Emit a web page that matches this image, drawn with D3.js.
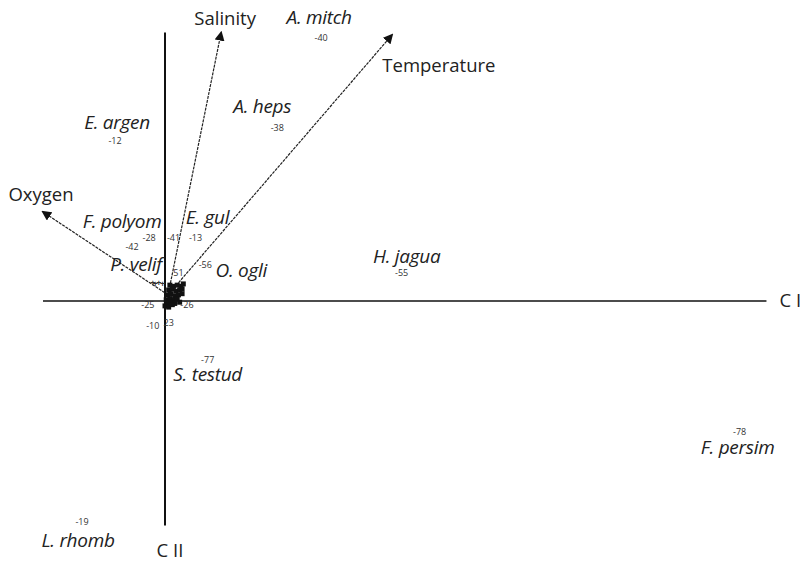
<!DOCTYPE html>
<html>
<head>
<meta charset="utf-8">
<script src="https://cdn.jsdelivr.net/npm/d3@7"></script>
<style>
  body { margin: 0; background: #fff; }
  svg { display: block; }
  .name { font-family: "Open Sans", sans-serif; font-style: italic; font-size: 19px; fill: #222; letter-spacing: -0.3px; }
  .num { font-family: "Open Sans", sans-serif; font-size: 9px; fill: #333; }
  .env { font-family: "Open Sans", sans-serif; font-size: 18.5px; fill: #222; }
</style>
</head>
<body>
<div id="svg-container"></div>
<script>
// site scores (CI, CII) and their ids
var ids   = ["-40", "-38", "-12", "-28", "-41", "-13", "-42", "51", "-56", "-55", "-25", "-26", "-10", "23", "-77", "-78", "-19"];
var ci    = [1.28, 0.92, -0.41, -0.13, 0.07, 0.25, -0.27, 0.11, 0.33, 1.94, -0.14, 0.18, -0.10, 0.03, 0.35, 4.71, -0.68];
var cii   = [2.16, 1.42, 1.31, 0.52, 0.52, 0.52, 0.44, 0.23, 0.30, 0.23, -0.03, -0.03, -0.20, -0.18, -0.48, -1.07, -1.81];
var names = ["A. mitch", "A. heps", "E. argen", "F. polyom", "", "E. gul", "P. velif", "", "O. ogli", "H. jagua", "", "", "", "", "S. testud", "F. persim", "L. rhomb"];

// dense cluster near the origin
var clusterX = [0.04, 0.07, 0.10, 0.13, 0.15, 0.03, 0.06, 0.09, 0.12, 0.14, 0.02, 0.05, 0.08, 0.11, 0.14, 0.01, 0.04, 0.07, 0.10, 0.02, 0.05, 0.08, 0.00, 0.03, 0.06, 0.12];
var clusterY = [0.13, 0.12, 0.13, 0.12, 0.14, 0.09, 0.10, 0.08, 0.09, 0.10, 0.05, 0.06, 0.04, 0.05, 0.06, 0.01, 0.02, 0.01, 0.02, -0.02, -0.01, -0.02, -0.04, -0.05, -0.03, -0.01];
var crossX = [-0.08, -0.05, -0.02, -0.10];
var crossY = [0.14, 0.15, 0.14, 0.15];

// environmental vectors
var envNames = ["Salinity", "Temperature", "Oxygen"];
var envX = [0.46, 1.86, -1.0];
var envY = [2.20, 2.18, 0.73];
var envBase = [0.025, 0.05];

// label layout (pixel offsets from the point)
var nameDx = [-2, -15, 2, -27, 0, 12, 4, 0, 36, 5, 0, 0, 0, 0, 0, -2, -4];
var nameDy = [-20, -21, -19, -16, 0, -20, 17, 0, 6, -17, 0, 0, 0, 0, 15, 16, 19];
var envDx = [4, 47, -2];
var envDy = [-14, 30, -17];

var W = 802, H = 561;
var svg = d3.select("#svg-container").append("svg").attr("width", W).attr("height", H);

var x = d3.scaleLinear().domain([0, 1]).range([165, 287]);
var y = d3.scaleLinear().domain([0, 1]).range([301, 179]);

svg.append("defs").append("marker")
    .attr("id", "head")
    .attr("viewBox", "0 0 10 10")
    .attr("refX", 8).attr("refY", 5)
    .attr("markerWidth", 10).attr("markerHeight", 10)
    .attr("markerUnits", "userSpaceOnUse")
    .attr("orient", "auto")
    .append("path").attr("d", "M0,0 L10,5 L0,10 Z").attr("fill", "#111");

// axes
svg.append("line")
    .attr("x1", x(-1.0)).attr("x2", x(4.93))
    .attr("y1", y(0)).attr("y2", y(0))
    .attr("stroke", "#111").attr("stroke-width", 1.3);
svg.append("line")
    .attr("x1", x(0)).attr("x2", x(0))
    .attr("y1", y(2.20)).attr("y2", y(-1.84))
    .attr("stroke", "#111").attr("stroke-width", 2);

svg.append("text").attr("class", "env")
    .attr("x", x(4.93) + 13).attr("y", y(0))
    .attr("dy", "0.35em")
    .text("C I");
svg.append("text").attr("class", "env")
    .attr("x", x(0) + 5).attr("y", y(-1.84) + 25)
    .attr("text-anchor", "middle").attr("dy", "0.35em")
    .text("C II");

// environmental arrows
for (var i = 0; i < envNames.length; i++) {
    svg.append("line")
        .attr("x1", x(envBase[0])).attr("y1", y(envBase[1]))
        .attr("x2", x(envX[i])).attr("y2", y(envY[i]))
        .attr("stroke", "#222").attr("stroke-width", 1.2)
        .attr("stroke-dasharray", "3,1")
        .attr("marker-end", "url(#head)");
    svg.append("text").attr("class", "env")
        .attr("x", x(envX[i]) + envDx[i])
        .attr("y", y(envY[i]) + envDy[i])
        .attr("text-anchor", "middle")
        .attr("dy", "0.35em")
        .text(envNames[i]);
}

// cluster of sites near origin
for (i = 0; i < clusterX.length; i++) {
    svg.append("rect")
        .attr("x", x(clusterX[i]) - 2.5).attr("y", y(clusterY[i]) - 2.5)
        .attr("width", 5).attr("height", 5)
        .attr("fill", "#111");
}
for (i = 0; i < crossX.length; i++) {
    svg.append("text").attr("class", "num")
        .attr("x", x(crossX[i])).attr("y", y(crossY[i]))
        .attr("text-anchor", "middle").attr("dy", "0.35em")
        .style("font-weight", "bold")
        .text("+");
}

// numbered sites and species names
for (i = 0; i < ids.length; i++) {
    var px = x(ci[i]), py = y(cii[i]);
    svg.append("text").attr("class", "num")
        .attr("x", px).attr("y", py)
        .attr("text-anchor", "middle").attr("dy", "0.35em")
        .text(ids[i]);
    if (names[i] !== "") {
        svg.append("text").attr("class", "name")
            .attr("x", px + nameDx[i]).attr("y", py + nameDy[i])
            .attr("text-anchor", "middle").attr("dy", "0.35em")
            .text(names[i]);
    }
}
</script>
</body>
</html>
